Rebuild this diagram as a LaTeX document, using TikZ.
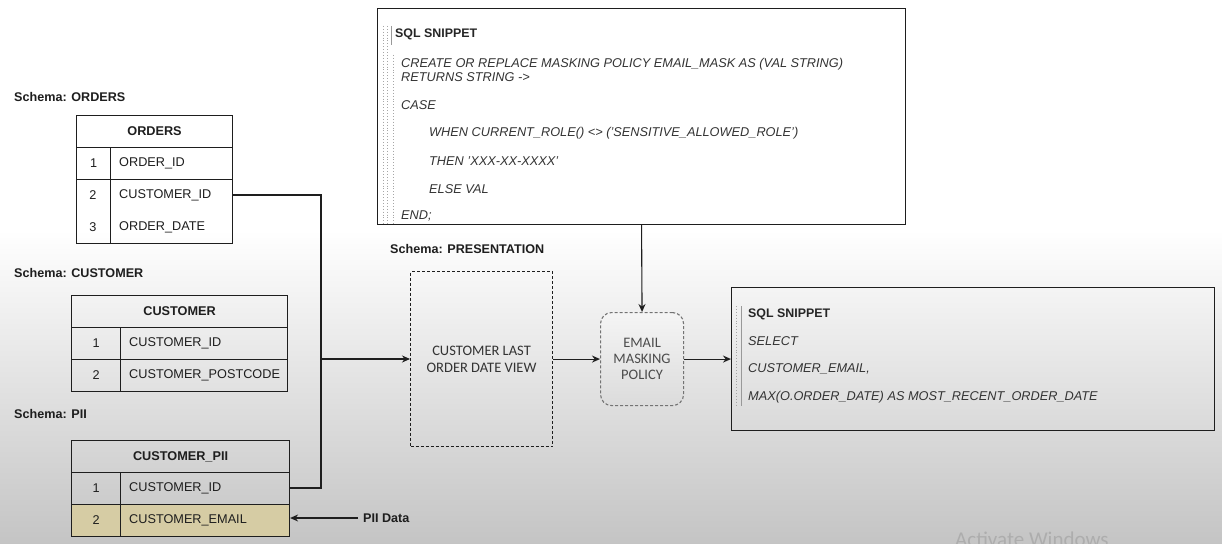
\documentclass[tikz,border=0pt]{standalone}
\usepackage{fontspec}
\setmainfont{Liberation Sans}
\newfontfamily\calib{Carlito}
\usetikzlibrary{arrows.meta,calc}
\definecolor{pii}{RGB}{214,204,164}
\definecolor{ink}{RGB}{30,30,30}
\begin{document}
\begin{tikzpicture}[x=1pt,y=-1pt,
  tfont/.style={font=\fontsize{12.7}{14}\selectfont},
  schema/.style={anchor=west,inner sep=0,font=\bfseries\fontsize{12.6}{14}\selectfont,text=ink},
  cell/.style={draw=ink,line width=1.1pt,anchor=north west,inner sep=0,minimum height=32pt,tfont,text=ink},
  txt/.style={anchor=west,inner sep=0,tfont,text=ink},
  num/.style={inner sep=0,tfont,text=ink},
  code/.style={anchor=west,inner sep=0,font=\itshape\fontsize{12.75}{14}\selectfont,text=black!80,align=left},
  codetitle/.style={anchor=west,inner sep=0,font=\bfseries\fontsize{12.4}{14}\selectfont,text=black!85},
  conn/.style={draw=ink,line width=1.1pt},
  arr/.style={conn,-{Stealth[length=8pt,width=7pt]}},
  guide/.style={draw=gray!70,dotted,line width=0.9pt},
]
\useasboundingbox (0,0) rectangle (1222,543);
\fill[white] (0,0) rectangle (1222,543);
\shade[top color=white,bottom color=black!23] (0,230) rectangle (1222,543);

% ORDERS
\node[schema] (sord) at (14,97) {Schema: ORDERS};
\node[cell,minimum width=156pt] (oh) at (76,115) {\bfseries ORDERS};
\node[cell,minimum width=34pt] (o1n) at (76,147) {1};
\node[cell,minimum width=122pt] (o1b) at (110,147) {};
\node[txt] (o1) at (119,163) {ORDER\_ID};
\node[cell,minimum width=34pt,minimum height=64pt] (o23n) at (76,179) {};
\node[cell,minimum width=122pt,minimum height=64pt] (o23) at (110,179) {};
\node[num] (o2n) at (93,195) {2};
\node[num] (o3n) at (93,227) {3};
\node[txt] (o2) at (119,195) {CUSTOMER\_ID};
\node[txt] (o3) at (119,227) {ORDER\_DATE};

% CUSTOMER
\node[schema] (scus) at (14,273) {Schema: CUSTOMER};
\node[cell,minimum width=216pt] (ch) at (71,295) {\bfseries CUSTOMER};
\node[cell,minimum width=49pt] (c1n) at (71,327) {1};
\node[cell,minimum width=167pt] (c1b) at (120,327) {};
\node[txt] (c1) at (129,343) {CUSTOMER\_ID};
\node[cell,minimum width=49pt] (c2n) at (71,359) {2};
\node[cell,minimum width=167pt] (c2b) at (120,359) {};
\node[txt] (c2) at (129,375) {CUSTOMER\_POSTCODE};

% PII
\node[schema] (spii) at (14,414) {Schema: PII};
\node[cell,minimum width=218pt] (ph) at (71,440) {\bfseries CUSTOMER\_PII};
\node[cell,minimum width=49pt] (p1n) at (71,472) {1};
\node[cell,minimum width=169pt] (p1b) at (120,472) {};
\node[txt] (p1) at (129,488) {CUSTOMER\_ID};
\node[cell,minimum width=49pt,fill=pii] (p2n) at (71,504) {2};
\node[cell,minimum width=169pt,fill=pii] (p2b) at (120,504) {};
\node[txt] (p2) at (129,520) {CUSTOMER\_EMAIL};
\node[schema] (piil) at (363,518) {PII Data};

% junction
\coordinate (j) at (321,359);
\draw[conn] (o2 -| o23.east) -| (j);
\draw[conn] (p1 -| p1b.east) -| (j);
\draw[arr] ($(piil.west)+(-5,0)$) -- (piil -| p2b.east);

% top SQL snippet
\node[draw=ink,line width=1.1pt,anchor=north west,minimum width=528pt,minimum height=216pt,inner sep=0] (sql1) at (377,8) {};
\draw[guide] (383,26) -- (383,224);
\draw[guide] (387,26) -- (387,224);
\draw[draw=gray!80,line width=0.8pt] (391,26) -- (391,45);
\draw[guide] (393,55) -- (393,224);
\node[codetitle] (t1) at (395,34) {SQL SNIPPET};
\node[code] (l1) at (401,70) {CREATE OR REPLACE MASKING POLICY EMAIL\_MASK AS (VAL STRING)\\RETURNS STRING ->};
\node[code] (l2) at (401,105) {CASE};
\node[code] (l3) at (429,133) {WHEN CURRENT\_ROLE() <> ('SENSITIVE\_ALLOWED\_ROLE')};
\node[code] (l4) at (429,161) {THEN 'XXX-XX-XXXX'};
\node[code] (l5) at (429,189) {ELSE VAL};
\node[code] (l6) at (401,216) {END;};

% presentation
\node[schema] (spres) at (390,249) {Schema: PRESENTATION};
\node[draw=ink,line width=1.1pt,dash pattern=on 3pt off 2pt,anchor=north west,minimum width=142pt,minimum height=175pt,inner sep=0,
  font=\calib\fontsize{14.5}{17}\selectfont,align=center,text=black!80] (view) at (410,271) {CUSTOMER LAST\\ORDER DATE VIEW};
\draw[arr] (j) -- (j -| view.west);

% policy
\node[draw=black!55,line width=1.1pt,dash pattern=on 3pt off 2pt,rounded corners=11pt,top color=black!4,bottom color=black!14,
  anchor=north west,minimum width=83pt,minimum height=93pt,inner sep=0,
  font=\calib\fontsize{14.5}{16}\selectfont,align=center,text=black!70] (pol) at (600,312) {EMAIL\\MASKING\\POLICY};
\draw[arr] (sql1.south) -- (pol.north);
\draw[arr] (view.east) -- (pol.west);

% bottom-right SQL snippet
\node[draw=ink,line width=1.1pt,anchor=north west,minimum width=483pt,minimum height=143pt,inner sep=0] (sql2) at (731,287) {};
\draw[guide] (736,306) -- (736,406);
\draw[draw=gray!80,line width=0.8pt] (741,306) -- (741,406);
\node[codetitle] (t2) at (748,314) {SQL SNIPPET};
\node[code] (m1) at (748,341) {SELECT};
\node[code] (m2) at (748,369) {CUSTOMER\_EMAIL,};
\node[code] (m3) at (748,397) {MAX(O.ORDER\_DATE) AS MOST\_RECENT\_ORDER\_DATE};
\draw[arr] (pol.east) -- (pol.east -| sql2.west);

% watermark
\node[anchor=base west,inner sep=0,font=\calib\fontsize{21}{24}\selectfont,text=black!32] (wm) at (955,546) {Activate Windows};
\end{tikzpicture}
\end{document}
